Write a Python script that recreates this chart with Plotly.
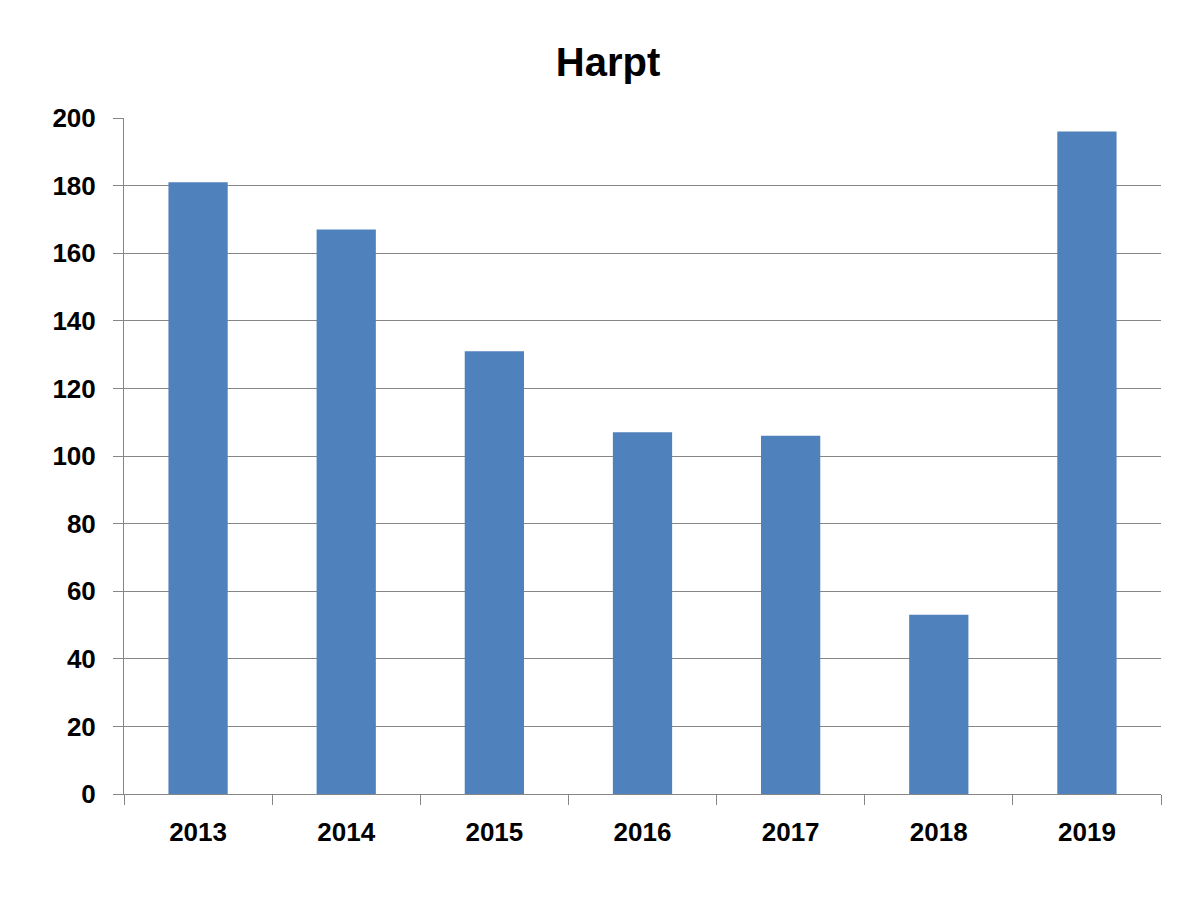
import plotly.graph_objects as go

years = ["2013", "2014", "2015", "2016", "2017", "2018", "2019"]
values = [181, 167, 131, 107, 106, 53, 196]
y_ticks = [0, 20, 40, 60, 80, 100, 120, 140, 160, 180, 200]

fig = go.Figure(go.Bar(x=years, y=values, marker=dict(color="#4F81BD", line=dict(width=0))))

fnt = "Liberation Sans, Arial, sans-serif"
# page body has an 8px margin, so the figure is offset by (8, 8)
fig.update_layout(
    width=1200, height=900,
    paper_bgcolor="white", plot_bgcolor="white",
    margin=dict(l=116, r=47, t=110, b=114),
    bargap=0.6,
    showlegend=False,
    title=dict(text="<b>Harpt</b>", x=0.5, xanchor="center", y=1 - 54 / 900, yref="container",
               yanchor="middle", font=dict(family=fnt, size=40, color="black")),
    font=dict(family=fnt, color="black"),
)
fig.update_xaxes(
    type="category", showline=True, linecolor="#868686", linewidth=1,
    ticks="outside", ticklen=10, tickcolor="#868686", tickson="boundaries",
    tickfont=dict(family=fnt, size=26, color="black"),
    tickvals=years, ticktext=["<b>%s</b>" % y for y in years],
    ticklabelstandoff=15, showgrid=False,
)
fig.update_yaxes(
    range=[0, 200], tickvals=y_ticks, ticktext=["<b>%d</b>" % v for v in y_ticks],
    showline=True, linecolor="#868686", linewidth=1,
    ticks="outside", ticklen=10, tickcolor="#868686",
    showgrid=True, gridcolor="#868686", gridwidth=1, zeroline=False,
    tickfont=dict(family=fnt, size=26, color="black"),
    ticklabelstandoff=12,
)
fig.write_html("out.html")
